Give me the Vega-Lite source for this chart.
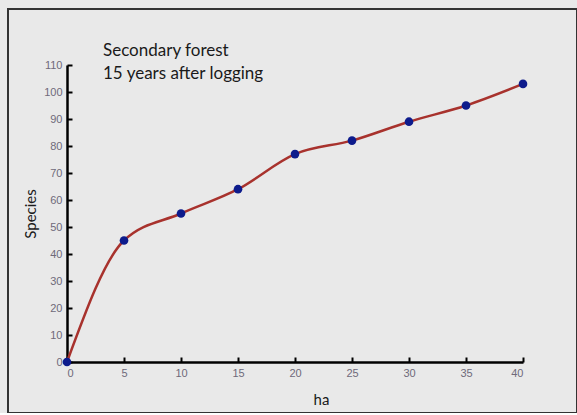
{
  "$schema": "https://vega.github.io/schema/vega-lite/v6.json",
  "width": 569,
  "height": 404,
  "autosize": {"type": "none"},
  "padding": {"left": 8, "top": 9, "right": 0, "bottom": 0},
  "background": "#e9e9e9",
  "view": {"stroke": "#333333", "strokeWidth": 2, "fill": "#e9e9e9"},
  "title": {
    "text": ["Secondary forest", "15 years after logging"],
    "anchor": "start",
    "frame": "group",
    "dx": 95,
    "offset": -87,
    "baseline": "alphabetic",
    "lineHeight": 23,
    "font": "Lato",
    "fontSize": 17,
    "fontWeight": "normal",
    "color": "#1a1a1a"
  },
  "data": {
    "values": [
      {"ha": 0, "species": 0},
      {"ha": 5, "species": 45},
      {"ha": 10, "species": 55},
      {"ha": 15, "species": 64},
      {"ha": 20, "species": 77},
      {"ha": 25, "species": 82},
      {"ha": 30, "species": 89},
      {"ha": 35, "species": 95},
      {"ha": 40, "species": 103}
    ]
  },
  "encoding": {
    "x": {
      "field": "ha",
      "type": "quantitative",
      "scale": {"domain": [0, 40], "range": [59, 515], "nice": false, "zero": false},
      "axis": {
        "title": "ha",
        "values": [0, 5, 10, 15, 20, 25, 30, 35, 40],
        "offset": -51,
        "grid": false,
        "domainColor": "#000000",
        "domainWidth": 2.5,
        "tickColor": "#000000",
        "tickWidth": 2,
        "tickSize": -5,
        "labelPadding": 10,
        "labelFont": "Liberation Sans",
        "labelFontSize": 11,
        "labelColor": "#6f6a7a",
        "titleFont": "Lato",
        "titleFontSize": 15,
        "titleFontWeight": "normal",
        "titleColor": "#1a1a1a",
        "titleX": 313,
        "titleY": 37,
        "titleBaseline": "middle",
        "titleAlign": "center"
      }
    },
    "y": {
      "field": "species",
      "type": "quantitative",
      "scale": {"domain": [0, 110], "range": [353, 56], "nice": false, "zero": false},
      "axis": {
        "title": "Species",
        "values": [0, 10, 20, 30, 40, 50, 60, 70, 80, 90, 100, 110],
        "offset": -59,
        "grid": false,
        "domainColor": "#000000",
        "domainWidth": 2.5,
        "tickColor": "#000000",
        "tickWidth": 2,
        "tickSize": -5,
        "labelPadding": 10,
        "labelFont": "Liberation Sans",
        "labelFontSize": 11,
        "labelColor": "#6f6a7a",
        "titleFont": "Lato",
        "titleFontSize": 15,
        "titleFontWeight": "normal",
        "titleColor": "#1a1a1a",
        "titleX": -37,
        "titleBaseline": "middle",
        "titleAlign": "center",
        "titleAngle": -90
      }
    }
  },
  "layer": [
    {"mark": {"type": "line", "interpolate": "monotone", "color": "#a8322d", "strokeWidth": 2.5}},
    {"mark": {"type": "circle", "color": "#0d1b8c", "opacity": 1, "size": 75}}
  ]
}
